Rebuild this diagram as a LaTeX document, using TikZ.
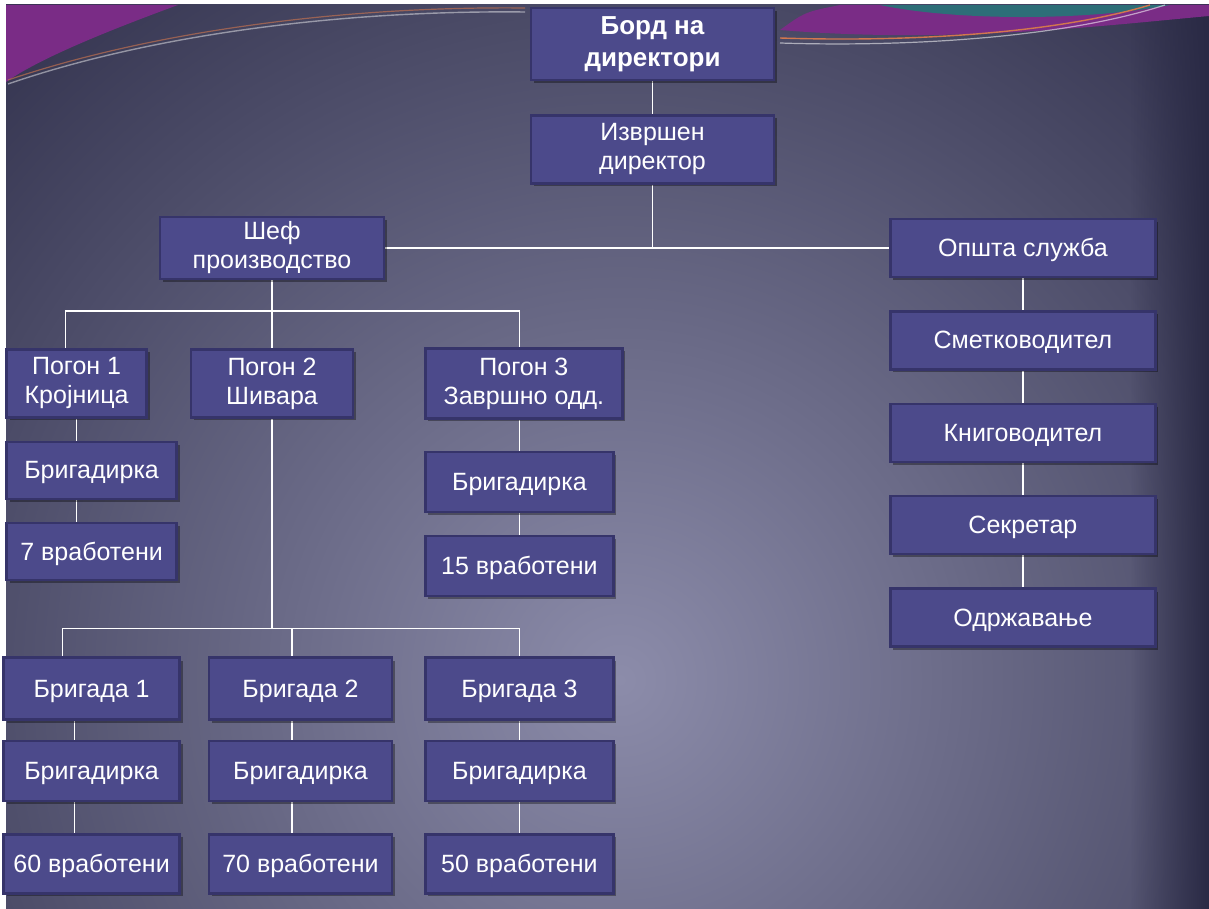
\documentclass[tikz,border=0pt]{standalone}
\usepackage{fontspec}
\setmainfont{Liberation Sans}
\usetikzlibrary{positioning,shadows,backgrounds,fadings}
\definecolor{orgnight}{HTML}{2A2A45}
\definecolor{orgglow}{HTML}{8C8CAA}
\definecolor{orgbox}{HTML}{4C4A8B}
\definecolor{orgedge}{HTML}{36346A}
\definecolor{orgplum}{HTML}{7A2C86}
\definecolor{orgteal}{HTML}{2D6E78}
\definecolor{orgember}{HTML}{D2774E}
\tikzfading[name=fade in right, left color=transparent!100, right color=transparent!0]

\begin{document}
\begin{tikzpicture}[x=0.5pt, y=-0.5pt,
  post/.style={draw=orgedge, line width=1.2pt, fill=orgbox, text=white, align=center, inner sep=1pt, font=\fontsize{12.5}{14.5}\selectfont, execute at begin node={\rule{0pt}{11pt}}, drop shadow={shadow xshift=1.5pt, shadow yshift=-1.5pt, fill=black, opacity=0.35}},
  sidebox/.style={post, minimum width=132.5pt, minimum height=29pt},
  link/.style={draw=white, line width=0.8pt}
]
\useasboundingbox (0,0) rectangle (1209,909);
% top of the tree
\node[post, minimum width=121.5pt, minimum height=36pt, font=\bfseries\fontsize{13}{16}\selectfont] (board) at (652.5,44) {Борд на\\директори};
\node[post, minimum width=121.5pt, minimum height=34pt, below=16.5pt of board] (exec) {Извршен\\директор};
\node[post, minimum width=112pt, minimum height=31pt] (prod) at (272,248) {Шеф\\производство};
\node[sidebox, right=252pt of prod] (office) {Општа служба};
% office column
\node[sidebox, below=16pt of office] (account) {Сметководител};
\node[sidebox, below=16pt of account] (books) {Книговодител};
\node[sidebox, below=16pt of books] (secretary) {Секретар};
\node[sidebox, below=16pt of secretary] (upkeep) {Одржавање};
% plants
\node[post, minimum width=81pt, minimum height=34pt, below=34pt of prod] (plant2) {Погон 2\\Шивара};
\node[post, minimum width=70pt, minimum height=34pt, left=21pt of plant2] (plant1) {Погон 1\\Кројница};
\node[post, minimum width=98.5pt, minimum height=35pt, right=35pt of plant2] (plant3) {Погон 3\\Завршно одд.};
\node[post, minimum width=85pt, minimum height=28.5pt, below right=11pt and 0pt of plant1.south west] (plant1head) {Бригадирка};
\node[post, minimum width=85pt, minimum height=28.5pt, below=11pt of plant1head] (plant1staff) {7 вработени};
\node[post, minimum width=94pt, minimum height=30pt, below right=15.5pt and 0pt of plant3.south west] (plant3head) {Бригадирка};
\node[post, minimum width=94pt, minimum height=30pt, below=11pt of plant3head] (plant3staff) {15 вработени};
% crews of plant 2
\node[post, minimum width=94pt, minimum height=31pt, below right=29.5pt and 0pt of plant3staff.south west] (crew3) {Бригада 3};
\node[post, minimum width=91.5pt, minimum height=31pt, left=15.5pt of crew3] (crew2) {Бригада 2};
\node[post, minimum width=88pt, minimum height=31pt, left=13.5pt of crew2] (crew1) {Бригада 1};
\node[post, minimum width=88pt, minimum height=30pt, below=9.5pt of crew1] (crew1head) {Бригадирка};
\node[post, minimum width=91.5pt, minimum height=30pt, below=9.5pt of crew2] (crew2head) {Бригадирка};
\node[post, minimum width=94pt, minimum height=30pt, below=9.5pt of crew3] (crew3head) {Бригадирка};
\node[post, minimum width=88pt, minimum height=29.5pt, below=15.5pt of crew1head] (crew1staff) {60 вработени};
\node[post, minimum width=91.5pt, minimum height=29.5pt, below=15.5pt of crew2head] (crew2staff) {70 вработени};
\node[post, minimum width=94pt, minimum height=29.5pt, below=15.5pt of crew3head] (crew3staff) {50 вработени};

\begin{scope}[on background layer]
% slide backdrop
\fill[white] (0,0) rectangle (1209,909);
\begin{scope}
\clip (6,5) rectangle (1209,909);
\fill[orgnight] (6,5) rectangle (1209,909);
\shade[inner color=orgglow, outer color=orgnight] (620,680) circle (1000);
\fill[orgnight, path fading=fade in right] (1130,5) rectangle (1209,909);
\fill[orgplum] (6,5) -- (178,5) .. controls (110,30) and (40,58) .. (6,82) -- cycle;
\draw[white, opacity=0.45, line width=0.7pt] (8,84) .. controls (150,35) and (340,10) .. (525,12);
\draw[orgember, opacity=0.6, line width=0.6pt] (8,80) .. controls (150,32) and (340,6) .. (525,8);
\fill[orgplum] (780,30) .. controls (950,44) and (1100,26) .. (1209,16) -- (1209,5) -- (840,5) .. controls (805,12) .. (780,30) -- cycle;
\fill[orgteal] (880,5) .. controls (950,20) and (1080,22) .. (1170,5) -- cycle;
\draw[orgember, line width=0.7pt] (780,38) .. controls (900,42) and (1050,35) .. (1150,5);
\draw[white, opacity=0.55, line width=0.6pt] (780,43) .. controls (900,47) and (1060,39) .. (1165,5);
\end{scope}
% connectors
\draw[link] (board) -- (exec);
\draw[link] (exec) -- (exec |- prod);
\draw[link] (prod) -- (office);
\draw[link] (office) -- (account);
\draw[link] (account) -- (books);
\draw[link] (books) -- (secretary);
\draw[link] (secretary) -- (upkeep);
\draw[link] (prod.south) -- ++(0,31) coordinate (fork1);
\draw[link] ([xshift=-5.5pt]plant1.north) |- (fork1) -| (plant3head.north |- plant3.north);
\draw[link] (fork1) -- (plant2);
\draw[link] (plant1.south) -- (plant1.south |- plant1staff.north);
\draw[link] (plant3head.north |- plant3.south) -- (plant3staff);
\draw[link] (plant2.south) -- ++(0,210) coordinate (fork2);
\draw[link] ([xshift=-14.5pt]crew1.north) |- (fork2) -| (crew3.north);
\draw[link] ([xshift=-4.25pt]crew2.north) -- ([xshift=-4.25pt]crew2.north |- fork2);
\draw[link] ([xshift=-8.5pt]crew1.south) -- ([xshift=-8.5pt]crew1staff.north);
\draw[link] ([xshift=-4.25pt]crew2.south) -- ([xshift=-4.25pt]crew2staff.north);
\draw[link] (crew3) -- (crew3staff);
\end{scope}
\end{tikzpicture}
\end{document}
